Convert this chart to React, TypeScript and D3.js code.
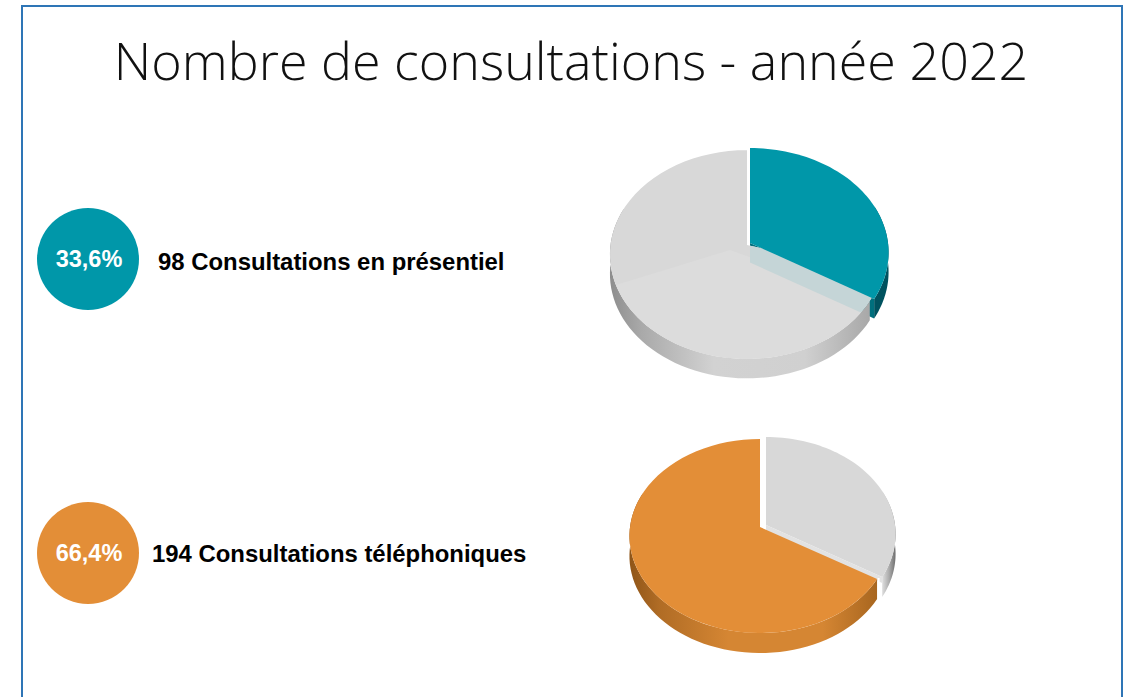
import React from "react";
import * as d3 from "d3";

const title = "Nombre de consultations - année 2022";
const categories = ["Consultations en présentiel", "Consultations téléphoniques"];
const counts = [98, 194];
const shareLabels = ["33,6%", "66,4%"];
const shares = [33.6, 66.4];
const teal = "#0097a9";
const orange = "#e38e37";
const grey = "#d8d8d8";

const WIDTH = 1133;
const HEIGHT = 697;
const TAU = Math.PI * 2;

type Disc = { cx: number; cy: number; rx: number; ry: number; k: number };
type Pt = [number, number];

// circle seen in perspective: far edge is squeezed a little, near edge stretched
const project = (d: Disc, a: number, r = 1): Pt => {
  const u = Math.sin(a) * r;
  const v = Math.cos(a) * r;
  const w = 1 + d.k * v;
  return [d.cx + (d.rx * u) / w, d.cy - (d.ry * v) / w];
};

const line = d3.line<Pt>();

const rim = (d: Disc, a0: number, a1: number): Pt[] =>
  d3.range(0, 61).map((i) => project(d, a0 + ((a1 - a0) * i) / 60));

const down = (pts: Pt[], h: number): Pt[] => pts.map(([x, y]) => [x, y + h] as Pt);

const sector = (d: Disc, a0: number, a1: number) =>
  line([[d.cx, d.cy], ...rim(d, a0, a1)])! + "Z";

const wall = (d: Disc, a0: number, a1: number, h: number) => {
  const top = rim(d, a0, a1);
  return line([...top, ...down(top, h).reverse()])! + "Z";
};

const cutFace = (d: Disc, a: number, h: number) => {
  const edge: Pt[] = [[d.cx, d.cy], project(d, a)];
  return line([...edge, ...down(edge, h).reverse()])! + "Z";
};

const angles = d3
  .pie<number>()
  .sort(null)
  .value((v) => v)(shares);
const splitAngle = angles[0].endAngle;

function Gradient({ id, stops }: { id: string; stops: [number, string][] }) {
  return (
    <linearGradient id={id} x1="0" x2="1" y1="0" y2="0">
      {stops.map(([o, c]) => (
        <stop key={o} offset={o} stopColor={c} />
      ))}
    </linearGradient>
  );
}

function TopPie() {
  const depth = 19.5;
  const slice: Disc = { cx: 750, cy: 243, rx: 138, ry: 103.6, k: 0.091 };
  const rest: Disc = { ...slice, cx: 747, cy: 245, rx: 136.5, ry: 103.5 };
  const shadeApex: Pt = [730, 250];
  const shade = line([shadeApex, ...rim(rest, splitAngle, 4.33)])! + "Z";
  return (
    <g>
      <path d={wall(slice, 1.2, splitAngle, depth)} fill="#00525f" />
      <path d={cutFace(slice, splitAngle, depth)} fill="#006f7d" />
      <path d={wall(rest, splitAngle, TAU - 1.2, depth)} fill="url(#greyWall)" />
      <clipPath id="restTop">
        <path d={sector(rest, splitAngle - 0.25, TAU)} />
      </clipPath>
      <path d={sector(rest, splitAngle - 0.25, TAU)} fill={grey} />
      <path d={shade} fill="#dcdcdc" clipPath="url(#restTop)" />
      <path d={cutFace(slice, splitAngle, depth)} fill="#c5d5d7" clipPath="url(#restTop)" />
      <path d={sector(slice, angles[0].startAngle, angles[0].endAngle)} fill={teal} />
    </g>
  );
}

function BottomPie() {
  const depth = 20;
  const slice: Disc = { cx: 760, cy: 527, rx: 130, ry: 96.2, k: 0.093 };
  const exploded: Disc = { ...slice, cx: 766, cy: 525, rx: 129 };
  const orangeEnd = project(slice, angles[1].startAngle);
  return (
    <g>
      <path d={wall(exploded, 1.2, angles[0].endAngle, depth)} fill="url(#greyWallDark)" />
      <path d={sector(exploded, angles[0].startAngle, angles[0].endAngle)} fill={grey} />
      <path d={cutFace(exploded, angles[0].endAngle, 6)} fill="#e2e2e2" />
      <path d={wall(slice, angles[1].startAngle, TAU - 1.2, depth)} fill="url(#orangeWall)" />
      <path d={sector(slice, angles[1].startAngle, angles[1].endAngle)} fill={orange} />
      {/* white gap between the orange end and the pulled-out slice */}
      <path
        d={line([[orangeEnd[0] + 1.5, orangeEnd[1] - 1], [orangeEnd[0] + 1.5, orangeEnd[1] + depth]])!}
        stroke="#fff"
        strokeWidth={2}
        fill="none"
      />
    </g>
  );
}

export default function App() {
  const rows = [
    { cy: 259, color: teal, textX: 158, textY: 270 },
    { cy: 553, color: orange, textX: 152, textY: 562 },
  ];
  return (
    <svg
      width={WIDTH}
      height={HEIGHT}
      style={{ position: "absolute", left: 0, top: 0, background: "#fff" }}
    >
      <defs>
        <Gradient
          id="greyWall"
          stops={[
            [0, "#8d8d8d"],
            [0.12, "#a9a9a9"],
            [0.4, "#d2d2d2"],
            [0.75, "#d0d0d0"],
            [1, "#a8a8a8"],
          ]}
        />
        <Gradient
          id="greyWallDark"
          stops={[
            [0, "#dedede"],
            [0.5, "#adadad"],
            [1, "#6f6f6f"],
          ]}
        />
        <Gradient
          id="orangeWall"
          stops={[
            [0, "#8f5518"],
            [0.12, "#b06c25"],
            [0.4, "#d58633"],
            [0.78, "#d58633"],
            [1, "#a8661f"],
          ]}
        />
      </defs>
      <path d="M22 700V6H1122V700" fill="none" stroke="#2e75b6" strokeWidth={2} />
      <text
        x={571}
        y={80}
        textAnchor="middle"
        fontFamily="'Open Sans', sans-serif"
        fontWeight={300}
        fontSize={52}
        fill="#111"
      >
        {title}
      </text>
      {rows.map((r, i) => (
        <g key={categories[i]}>
          <circle cx={88} cy={r.cy} r={51} fill={r.color} />
          <text
            x={89}
            y={r.cy + 8}
            textAnchor="middle"
            fontFamily="'Liberation Sans', Arial, sans-serif"
            fontWeight={700}
            fontSize={23.5}
            fill="#fff"
          >
            {shareLabels[i]}
          </text>
          <text
            x={r.textX}
            y={r.textY}
            fontFamily="'Liberation Sans', Arial, sans-serif"
            fontWeight={700}
            fontSize={23.9}
            fill="#000"
          >
            {`${counts[i]} ${categories[i]}`}
          </text>
        </g>
      ))}
      <TopPie />
      <BottomPie />
    </svg>
  );
}
